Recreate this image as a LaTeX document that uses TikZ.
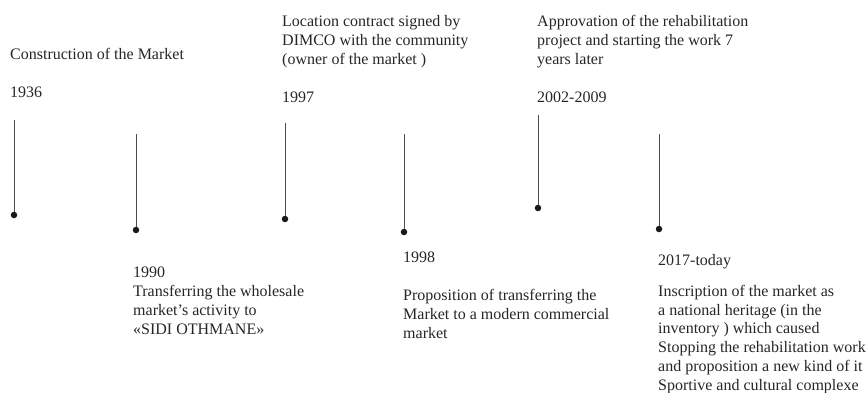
\documentclass[tikz,border=0pt]{standalone}
\usepackage{fontspec}
\setmainfont{Liberation Serif}
\usetikzlibrary{positioning}

\begin{document}
\begin{tikzpicture}[
    x=1pt, y=-1pt,
    evt/.style={anchor=base west, inner sep=0pt, align=left, font=\fontsize{16}{18.7}\selectfont, text=black!85},
    stem/.style={draw=black!70, line width=0.9pt},
    pin/.style={circle, fill=black!90, inner sep=0pt, minimum size=6.5pt},
  ]
    \useasboundingbox (0,0) rectangle (867,392);

    % events above the stems (anchored on their last line)
    \node[evt] (t1936) at (10,59) {Construction of the Market};
    \node[evt] (y1936) at (10,97) {1936};
    \node[evt] (t1997) at (282,64) {Location contract signed by\\DIMCO with the community\\(owner of the market )};
    \node[evt] (y1997) at (282,102) {1997};
    \node[evt] (t2002) at (537,64) {Approvation of the rehabilitation\\project and starting the work 7\\years later};
    \node[evt] (y2002) at (537,102) {2002-2009};

    % events below the stems
    \node[evt] (t1990) at (133,334) {1990\\Transferring the wholesale\\market’s activity to\\«SIDI OTHMANE»};
    \node[evt] (y1998) at (403,262) {1998};
    \node[evt] (t1998) at (403,338) {Proposition of transferring the\\Market to a modern commercial\\market};
    \node[evt] (y2017) at (658,265) {2017-today};
    \node[evt] (t2017) at (658,390) {Inscription of the market as\\a national heritage (in the\\inventory ) which caused\\Stopping the rehabilitation work\\and proposition a new kind of it\\Sportive and cultural complexe};

    % stems with their pins
    \coordinate (s1) at (14,120);   \node[pin] (p1) at (14,215) {};
    \coordinate (s2) at (136,134);  \node[pin] (p2) at (136,230) {};
    \coordinate (s3) at (285,123);  \node[pin] (p3) at (285,219) {};
    \coordinate (s4) at (404,134);  \node[pin] (p4) at (404,232) {};
    \coordinate (s5) at (538,115);  \node[pin] (p5) at (538,208) {};
    \coordinate (s6) at (659,134);  \node[pin] (p6) at (659,229) {};
    \foreach \i in {1,...,6}
      \draw[stem] (s\i) -- (p\i);
  \end{tikzpicture}
\end{document}
